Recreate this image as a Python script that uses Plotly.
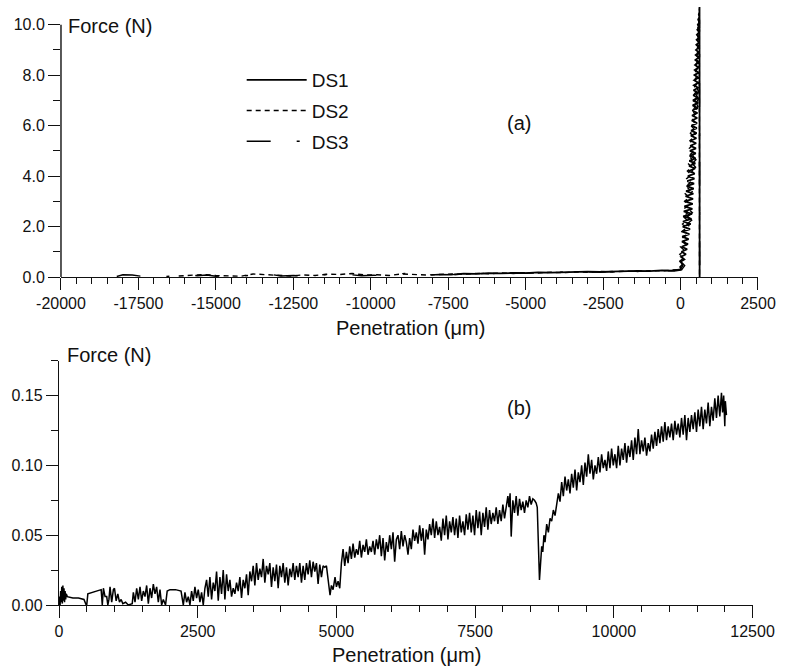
import plotly.graph_objects as go

# ---------------- data ----------------
# (a) three datasets, force (N) vs penetration (um)
ds1_x = [-7300, -7000, -6600, -6200, -5800, -5400, -5000, -4600, -4200, -3800, -3400, -3000, -2600, -2200,
         -1800, -1400, -1000, -600, -300, -100,
         20, -13, 71, 1, 123, 16, 174, 30,
         212, 38, 235, 46, 259, 54, 283, 61, 306, 69, 330, 77, 353, 85,
         370, 104, 381, 123, 392, 142, 403, 161, 414, 180, 425, 198, 436, 217, 447, 236, 458, 255, 469, 274,
         477, 284, 484, 294, 491, 303, 497, 313, 504, 323, 511, 333, 518, 342, 524, 352, 531, 362, 538, 372,
         544, 381, 551, 391, 558, 401,
         563, 411, 566, 420, 569, 430, 572, 440, 575, 450, 578, 459, 581, 469, 584, 479, 587, 488, 590, 498,
         593, 508, 596, 518, 599, 527, 602,
         540, 604, 556, 606, 572, 608, 588, 610, 604, 612, 615, 616]
ds1_y = [0.10, 0.13, 0.12, 0.15, 0.14, 0.16, 0.15, 0.18, 0.17, 0.19, 0.18, 0.21, 0.20, 0.22,
         0.21, 0.24, 0.23, 0.26, 0.25, 0.28,
         0.3, 0.4, 0.5, 0.6, 0.7, 0.8, 0.9, 1.0,
         1.1, 1.2, 1.3, 1.4, 1.5, 1.6, 1.7, 1.8, 1.9, 2.0, 2.1, 2.2, 2.3, 2.4,
         2.5, 2.6, 2.7, 2.8, 2.9, 3.0, 3.1, 3.2, 3.3, 3.4, 3.5, 3.6, 3.7, 3.8, 3.9, 4.0, 4.1, 4.2, 4.3, 4.4,
         4.5, 4.6, 4.7, 4.8, 4.9, 5.0, 5.1, 5.2, 5.3, 5.4, 5.5, 5.6, 5.7, 5.8, 5.9, 6.0, 6.1, 6.2, 6.3, 6.4,
         6.5, 6.6, 6.7, 6.8, 6.9, 7.0,
         7.1, 7.2, 7.3, 7.4, 7.5, 7.6, 7.7, 7.8, 7.9, 8.0, 8.1, 8.2, 8.3, 8.4, 8.5, 8.6, 8.7, 8.8, 8.9, 9.0,
         9.1, 9.2, 9.3, 9.4, 9.5, 9.6, 9.7,
         9.8, 9.9, 10.0, 10.1, 10.2, 10.3, 10.4, 10.5, 10.6, 10.7, 5.0, 0.0]

ds2_x = [-16200, -15800, -15400, -15000, -14600, -14200, -13800, -13400, -13000, -12600, -12200, -11800,
         -11400, -11000, -10600, -10200, -9800, -9400, -9000, -8600, -8200, -7800, -7400, -7000, -6600,
         -6200, -5800, -5400, -5000, -4600, -4200, -3800, -3400, -3000, -2600, -2200, -1800, -1400, -1000,
         -600, -300,
         -10, 74, -52, 102, -24, 129, -1, 150, 20, 171, 41, 192, 63, 214, 85, 236, 108, 259, 130, 281, 152,
         304, 175, 326, 198, 345, 221, 365, 240, 384, 260, 404, 285, 414, 302, 430, 318, 445, 340, 455, 361,
         470, 378, 484, 396, 497, 414, 508, 430, 519, 446, 530, 462, 540, 478, 552, 494, 562, 512, 572, 526,
         580, 542, 590, 556, 598, 574, 606, 612]
ds2_y = [0.04, 0.07, 0.10, 0.06, 0.05, 0.03, 0.12, 0.10, 0.05, 0.04, 0.08, 0.06,
         0.11, 0.10, 0.14, 0.08, 0.09, 0.06, 0.12, 0.10, 0.08, 0.10, 0.12, 0.11, 0.14,
         0.13, 0.16, 0.14, 0.17, 0.16, 0.19, 0.17, 0.20, 0.19, 0.22, 0.20, 0.23, 0.22, 0.25,
         0.24, 0.27,
         0.30, 0.45, 0.60, 0.75, 0.90, 1.05, 1.20, 1.35, 1.50, 1.65, 1.80, 1.95, 2.10, 2.25, 2.40, 2.55,
         2.70, 2.85, 3.00, 3.15, 3.30, 3.45, 3.60, 3.75, 3.90, 4.05, 4.20, 4.35, 4.50, 4.65, 4.80, 4.95,
         5.10, 5.25, 5.40, 5.55, 5.70, 5.85, 6.00, 6.15, 6.30, 6.45, 6.60, 6.75, 6.90, 7.05, 7.20, 7.35,
         7.50, 7.65, 7.80, 7.95, 8.10, 8.25, 8.40, 8.55, 8.70, 8.85, 9.00, 9.15, 9.30, 9.45, 9.60, 9.75,
         9.90, 10.05, 10.20, 10.35, 0.05]

ds3_x = [-18200, -18000, -17700, -17400, -17000, -16600, -16200, -15900, -15600, -15300, -15000, -14600,
         -14200, -13800, -13500, -13200, -12900, -12500, -12100, -11700, -11300, -11000, -10700, -10300,
         -9900, -9500, -9200, -8900, -8600, -8200, -7800, -7400, -7000, -6600, -6200, -5800, -5400, -5000,
         -4600, -4200, -3800, -3400, -3000, -2600, -2200, -1800, -1400, -1000, -600, -200, 0,
         40, 134, 17, 181, 64, 226, 104, 262, 140, 298, 176, 334, 208, 359, 230, 381, 253, 404, 275, 422,
         298, 440, 320, 456, 342, 473, 362, 485, 380, 498, 400, 510, 418, 518, 434, 528, 452, 537, 468, 545,
         482, 553, 495, 561, 508, 571, 518, 576, 530, 582, 540, 589, 550, 594, 558, 598, 566, 603, 576, 605,
         584, 609, 593, 612, 600, 614, 610, 616]
ds3_y = [0.02, 0.09, 0.08, 0.03, 0.05, 0.02, 0.06, 0.09, 0.05, 0.08, 0.03, 0.04,
         0.02, 0.10, 0.14, 0.10, 0.04, 0.06, 0.03, 0.07, 0.13, 0.15, 0.10, 0.05,
         0.07, 0.05, 0.12, 0.14, 0.08, 0.07, 0.10, 0.09, 0.14, 0.12, 0.15, 0.13, 0.17, 0.15,
         0.18, 0.16, 0.20, 0.18, 0.21, 0.19, 0.22, 0.21, 0.24, 0.22, 0.25, 0.24, 0.27,
         0.30, 0.45, 0.60, 0.75, 0.90, 1.05, 1.20, 1.35, 1.50, 1.65, 1.80, 1.95, 2.10, 2.25, 2.40, 2.55,
         2.70, 2.85, 3.00, 3.15, 3.30, 3.45, 3.60, 3.75, 3.90, 4.05, 4.20, 4.35, 4.50, 4.65, 4.80, 4.95,
         5.10, 5.25, 5.40, 5.55, 5.70, 5.85, 6.00, 6.15, 6.30, 6.45, 6.60, 6.75, 6.90, 7.05, 7.20, 7.35,
         7.50, 7.65, 7.80, 7.95, 8.10, 8.25, 8.40, 8.55, 8.70, 8.85, 9.00, 9.15, 9.30, 9.45, 9.60, 9.75,
         9.90, 10.05, 10.20, 0.05]

# (b) single trace, force (N) vs penetration (um)
b_x = [0, 10, 20, 30, 40, 50, 60, 70, 80, 90, 100, 110, 120, 130,
       150, 250, 350, 450, 490, 500, 520, 760,
       780, 800, 830, 860, 880, 900, 920, 950, 980, 1000, 1030, 1060, 1090, 1120,
       1150, 1200, 1250, 1320,
       1340, 1370, 1400, 1430, 1460, 1490, 1520, 1550, 1580, 1610, 1640, 1670, 1700, 1730, 1760, 1790,
       1820, 1850, 1880,
       1920, 1950, 2000, 2100, 2200, 2240,
       2270, 2300, 2330, 2360, 2390, 2420, 2450, 2480, 2510, 2540, 2570, 2600, 2630,
       2660, 2690, 2720, 2750, 2780, 2810, 2840, 2870, 2900, 2930, 2960, 2990, 3020, 3050, 3080, 3110,
       3140, 3170, 3200, 3230, 3260, 3290, 3320, 3350, 3380, 3410, 3440, 3470,
       3500, 3530, 3560, 3590, 3620, 3650, 3680, 3710, 3740, 3770, 3800, 3830, 3860, 3890, 3920, 3950,
       3980, 4010, 4040, 4070, 4100, 4130, 4160, 4190, 4220, 4250, 4280,
       4310, 4340, 4370, 4400, 4430, 4460, 4490, 4520, 4550, 4580, 4610, 4640, 4670, 4700, 4730, 4760,
       4790, 4820, 4850, 4885, 4910, 4940, 4975, 5000, 5030, 5060, 5090, 5120,
       5150, 5180, 5210, 5240, 5270, 5300, 5330, 5360, 5390, 5420, 5450, 5480, 5510, 5540, 5570, 5600,
       5630, 5660, 5690, 5720, 5750, 5780, 5810, 5840, 5870, 5900, 5930, 5960, 5990, 6020, 6050, 6080,
       6110, 6140, 6170, 6200, 6230, 6260, 6290, 6320, 6350, 6380, 6410, 6440, 6470, 6500, 6530, 6560,
       6590, 6620, 6650, 6680,
       6710, 6740, 6770, 6800, 6830, 6860, 6890, 6920, 6950, 6980, 7010, 7040, 7070, 7100, 7130, 7160,
       7190, 7220, 7250, 7280, 7310, 7340, 7370,
       7400, 7430, 7460, 7490, 7520, 7550, 7580, 7610, 7640, 7670, 7700, 7730, 7760, 7790, 7820, 7850,
       7880, 7910, 7940, 7970, 8000, 8030, 8060,
       8090, 8110, 8130, 8150, 8180, 8210, 8240, 8270, 8300, 8330, 8360, 8390, 8420, 8450, 8480, 8510,
       8540, 8570, 8600,
       8620, 8640, 8660, 8680, 8700, 8720, 8740, 8760, 8790, 8820, 8850, 8880, 8910, 8940,
       8970, 9000, 9030, 9060, 9090, 9120, 9150, 9180, 9210, 9240, 9270, 9300, 9330, 9360, 9390, 9420,
       9450, 9480, 9510, 9540, 9570, 9600, 9630, 9660, 9690, 9720, 9750, 9780, 9810, 9840, 9870, 9900,
       9930, 9960, 9990, 10020, 10050, 10080, 10110, 10140, 10170, 10200, 10230, 10260, 10290, 10320,
       10350, 10380, 10410, 10440, 10470, 10500, 10530, 10560, 10590, 10620, 10650, 10680, 10710, 10740,
       10770, 10800, 10830, 10860, 10890, 10920, 10950, 10980, 11010, 11040, 11070, 11100, 11130, 11160,
       11190, 11220, 11250, 11280, 11310, 11340, 11370, 11400, 11430, 11460, 11490, 11520, 11550, 11580,
       11610, 11640, 11670, 11700, 11730, 11760, 11790, 11820, 11850, 11880, 11910, 11940, 11960, 11980,
       12000, 12010, 12030]
b_y = [0.0, 0.006, 0.0, 0.010, 0.002, 0.013, 0.001, 0.014, 0.003, 0.012, 0.002, 0.010, 0.004, 0.008,
       0.006, 0.005, 0.005, 0.004, 0.0, 0.0, 0.008, 0.011,
       0.0, 0.012, 0.006, 0.006, 0.0, 0.004, 0.013, 0.002, 0.011, 0.012, 0.003, 0.008, 0.002, 0.004,
       0.001, 0.002, 0.0, 0.001,
       0.009, 0.002, 0.012, 0.004, 0.013, 0.003, 0.010, 0.006, 0.014, 0.001, 0.012, 0.005, 0.015, 0.008,
       0.013, 0.002, 0.011, 0.0, 0.004,
       0.0, 0.010, 0.011, 0.011, 0.010, 0.0,
       0.009, 0.002, 0.006, 0.0, 0.010, 0.003, 0.013, 0.005, 0.011, 0.002, 0.009, 0.0, 0.012,
       0.018, 0.006, 0.020, 0.004, 0.016, 0.010, 0.024, 0.003, 0.020, 0.008, 0.025, 0.004, 0.022, 0.010,
       0.018, 0.006,
       0.012, 0.008, 0.016, 0.010, 0.020, 0.005, 0.018, 0.012, 0.022, 0.007, 0.024, 0.017,
       0.028, 0.014, 0.030, 0.018, 0.026, 0.020, 0.033, 0.016, 0.028, 0.022, 0.030, 0.013, 0.027, 0.017,
       0.029, 0.012, 0.028, 0.020, 0.030, 0.016, 0.027, 0.014, 0.026, 0.020, 0.030, 0.018, 0.028,
       0.020, 0.030, 0.016, 0.028, 0.018, 0.030, 0.022, 0.032, 0.020, 0.031, 0.024, 0.030, 0.015, 0.029,
       0.020, 0.028, 0.027, 0.028, 0.018, 0.007, 0.014, 0.011, 0.020, 0.013, 0.017, 0.012, 0.030, 0.040,
       0.028, 0.038, 0.030, 0.042, 0.033, 0.044, 0.034, 0.040, 0.036, 0.046, 0.034, 0.043, 0.038, 0.047,
       0.036, 0.042, 0.038, 0.046, 0.036, 0.047, 0.040, 0.050, 0.035, 0.048, 0.032, 0.045, 0.038, 0.050,
       0.040, 0.052, 0.031, 0.047,
       0.050, 0.040, 0.053, 0.042, 0.050, 0.045, 0.036, 0.048, 0.040, 0.054, 0.046, 0.052, 0.044, 0.057,
       0.046, 0.055, 0.036, 0.054, 0.047, 0.058,
       0.050, 0.062, 0.048, 0.060, 0.050, 0.056, 0.046, 0.062, 0.050, 0.064, 0.047, 0.060, 0.052, 0.063,
       0.050, 0.062, 0.048, 0.064, 0.052, 0.060, 0.050, 0.065, 0.054,
       0.066, 0.052, 0.064, 0.050, 0.068, 0.055, 0.067, 0.050, 0.066, 0.056, 0.070, 0.054, 0.068, 0.058,
       0.066, 0.060, 0.070, 0.058, 0.068, 0.060, 0.072, 0.062, 0.070,
       0.078, 0.070, 0.080, 0.049, 0.075, 0.066, 0.078, 0.064, 0.076, 0.068, 0.074, 0.066, 0.075, 0.070,
       0.078, 0.072, 0.076, 0.075, 0.073,
       0.070, 0.045, 0.018, 0.030, 0.042, 0.038, 0.050, 0.045, 0.058, 0.052, 0.062, 0.060, 0.068, 0.064,
       0.072, 0.080, 0.074, 0.088, 0.078, 0.092, 0.082, 0.090, 0.080, 0.094, 0.084, 0.097, 0.082, 0.095,
       0.088, 0.100, 0.086, 0.102, 0.092, 0.108, 0.094, 0.104, 0.090, 0.100, 0.094, 0.106, 0.095, 0.108,
       0.098, 0.104, 0.096, 0.110, 0.098, 0.112, 0.100, 0.108, 0.098, 0.114, 0.100, 0.112, 0.104, 0.116,
       0.102, 0.114, 0.106, 0.118, 0.104, 0.120, 0.108, 0.126, 0.108, 0.118, 0.110, 0.120, 0.107, 0.116,
       0.110, 0.122, 0.112, 0.124, 0.114, 0.126, 0.116, 0.128, 0.117, 0.131, 0.118, 0.128, 0.120, 0.130,
       0.118, 0.132, 0.122, 0.130, 0.120, 0.134, 0.122, 0.136, 0.118, 0.134, 0.124, 0.136, 0.126, 0.138,
       0.124, 0.140, 0.128, 0.142, 0.126, 0.140, 0.130, 0.145, 0.128, 0.142, 0.132, 0.148, 0.134, 0.150,
       0.135, 0.152, 0.138, 0.150, 0.128, 0.146, 0.136]

# axis ticks
top_x_ticks = [-20000, -17500, -15000, -12500, -10000, -7500, -5000, -2500, 0, 2500]
top_x_labels = ["-20000", "-17500", "-15000", "-12500", "-10000", "-7500", "-5000", "-2500", "0", "2500"]
top_y_ticks = [0, 2, 4, 6, 8, 10]
top_y_labels = ["0.0", "2.0", "4.0", "6.0", "8.0", "10.0"]
bot_x_ticks = [0, 2500, 5000, 7500, 10000, 12500]
bot_x_labels = ["0", "2500", "5000", "7500", "10000", "12500"]
bot_y_ticks = [0, 0.05, 0.10, 0.15]
bot_y_labels = ["0.00", "0.05", "0.10", "0.15"]

# ---------------- layout geometry ----------------
W, H = 787, 668
ML, MR, MT, MB = 59, 24, 7, 63
PW, PH = W - ML - MR, H - MT - MB


def px(x):
    return (x - ML) / PW


def py(y):
    return (H - MB - y) / PH


FONT = "Liberation Sans, Arial, sans-serif"
INK = "#111111"

fig = go.Figure()

fig.add_trace(go.Scatter(x=ds1_x, y=ds1_y, mode="lines", name="DS1", legendgroup="g1",
                         line=dict(color="black", width=1.8, dash="solid"), xaxis="x", yaxis="y"))
fig.add_trace(go.Scatter(x=ds2_x, y=ds2_y, mode="lines", name="DS2", legendgroup="g2",
                         line=dict(color="black", width=1.4, dash="5px,4px"), xaxis="x", yaxis="y"))
fig.add_trace(go.Scatter(x=ds3_x, y=ds3_y, mode="lines", name="DS3", legendgroup="g3",
                         line=dict(color="black", width=1.4, dash="24px,26px,3px,26px"), xaxis="x", yaxis="y"))
fig.add_trace(go.Scatter(x=b_x, y=b_y, mode="lines", showlegend=False,
                         line=dict(color="black", width=1.5), xaxis="x2", yaxis="y2"))

axis_common = dict(ticks="outside", tickcolor=INK, tickwidth=1.3, linecolor=INK, linewidth=1.4,
                   showgrid=False, zeroline=False, tickfont=dict(family=FONT, size=16, color=INK))

fig.update_layout(
    width=W, height=H,
    margin=dict(l=ML, r=MR, t=MT, b=MB),
    paper_bgcolor="white", plot_bgcolor="white",
    showlegend=True,
    legend=dict(x=px(243), y=py(61), xanchor="left", yanchor="top",
                font=dict(family=FONT, size=19, color=INK), bgcolor="rgba(0,0,0,0)",
                itemwidth=60, tracegroupgap=3),
    xaxis=dict(domain=[px(61), px(763)], range=[-20000, 2500], anchor="y",
               tickvals=top_x_ticks, ticktext=top_x_labels, ticklen=12, showline=True,
               minor=dict(dtick=500, ticklen=6, tickwidth=1.3, tickcolor=INK, ticks="outside"),
               **axis_common),
    yaxis=dict(domain=[py(277), 1.0], range=[0, 10.7], anchor="x",
               tickvals=top_y_ticks, ticktext=top_y_labels, ticklen=12, showline=False,
               minor=dict(tickvals=[1, 3, 5, 7, 9], ticklen=7, tickwidth=1.3, tickcolor=INK, ticks="outside"),
               **axis_common),
    xaxis2=dict(domain=[px(59), px(757.5)], range=[0, 12500], anchor="y2",
                tickvals=bot_x_ticks, ticktext=bot_x_labels, ticklen=12, showline=True,
                minor=dict(dtick=500, ticklen=6, tickwidth=1.3, tickcolor=INK, ticks="outside"),
                **axis_common),
    yaxis2=dict(domain=[0.0, py(360.7)], range=[0, 0.175], anchor="x2",
                tickvals=bot_y_ticks, ticktext=bot_y_labels, ticklen=12, showline=True,
                minor=dict(tickvals=[0.025, 0.075, 0.125, 0.175], ticklen=7, tickwidth=1.3,
                           tickcolor=INK, ticks="outside"),
                **axis_common),
)

# y axis line of the top panel stops at 10.0 (the data overshoot above it)
fig.add_shape(type="line", xref="x domain", yref="y", x0=0, x1=0, y0=0, y1=10,
              line=dict(color=INK, width=1.4))

ann_font = dict(family=FONT, size=20, color=INK)
annotations = [
    dict(text="Force (N)", x=px(66), y=py(26), xanchor="left", yanchor="middle"),
    dict(text="Force (N)", x=px(65), y=py(355), xanchor="left", yanchor="middle"),
    dict(text="(a)", x=px(522), y=py(123), xanchor="center", yanchor="middle"),
    dict(text="(b)", x=px(522), y=py(408), xanchor="center", yanchor="middle"),
    dict(text="Penetration (\u03bcm)", x=px(413), y=py(328), xanchor="center", yanchor="middle"),
    dict(text="Penetration (\u03bcm)", x=px(409), y=py(655), xanchor="center", yanchor="middle"),
]
for a in annotations:
    a.update(xref="paper", yref="paper", showarrow=False, font=ann_font)
    fig.add_annotation(**a)

fig.write_html("out.html")
